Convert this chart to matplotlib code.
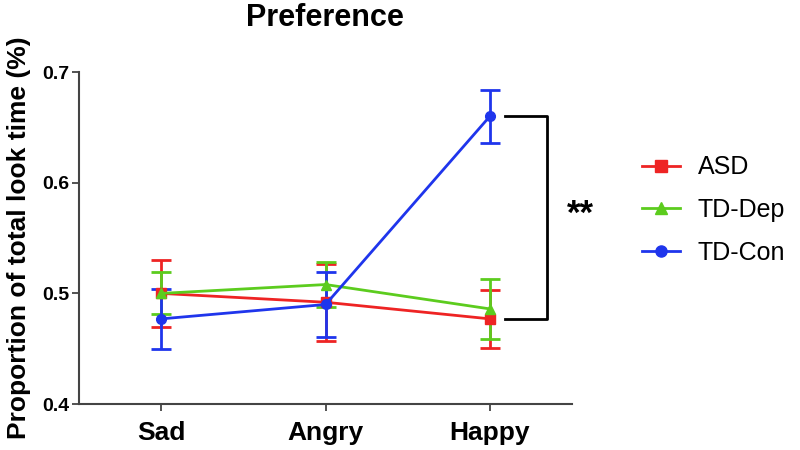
import matplotlib.pyplot as plt
from matplotlib.lines import Line2D
import numpy as np

plt.rcParams['font.family'] = ['Liberation Sans', 'DejaVu Sans']

conditions = ['Sad', 'Angry', 'Happy']
groups = ['ASD', 'TD-Dep', 'TD-Con']
asd_mean = [0.500, 0.492, 0.477]
asd_err = [0.030, 0.035, 0.026]
dep_mean = [0.500, 0.508, 0.486]
dep_err = [0.019, 0.020, 0.027]
con_mean = [0.477, 0.490, 0.660]
con_err = [0.027, 0.029, 0.024]
colors = ['#ee2424', '#5ccc1e', '#1f35ec']
markers = ['s', '^', 'o']

fig = plt.figure(figsize=(8, 4.5), dpi=100)
ax = fig.add_axes([0.099, 0.102, 0.616, 0.738])

x = np.arange(len(conditions))
series = [(asd_mean, asd_err), (dep_mean, dep_err), (con_mean, con_err)]
handles = []
for (m, e), name, c, mk in zip(series, groups, colors, markers):
    ax.errorbar(x, m, yerr=e, color=c, marker=mk, markersize=7, linewidth=2,
                elinewidth=2, capsize=7, capthick=2)
    handles.append(Line2D([], [], color=c, marker=mk, markersize=8, linewidth=2, label=name))

ax.set_xlim(-0.5, 2.5)
ax.set_ylim(0.4, 0.7)
ax.set_yticks([0.4, 0.5, 0.6, 0.7])
ax.set_yticklabels(['0.4', '0.5', '0.6', '0.7'], fontsize=14, fontweight='bold')
ax.set_xticks(x)
ax.set_xticklabels(conditions, fontsize=19, fontweight='bold')
for s in ['top', 'right']:
    ax.spines[s].set_visible(False)
for s in ['left', 'bottom']:
    ax.spines[s].set_color('#444444')
    ax.spines[s].set_linewidth(1.5)
ax.tick_params(direction='out', length=5, width=1.3, color='#444444')
ax.tick_params(axis='y', pad=2)
ax.tick_params(axis='x', pad=7)

ax.set_ylabel('Proportion of total look time (%)', fontsize=19, fontweight='bold', labelpad=8)
fig.text(0.406, 0.96, 'Preference', fontsize=22, fontweight='bold', ha='center', va='center')

# significance bracket between TD-Con and ASD at Happy
bx0, bx1 = 2.09, 2.35
ax.plot([bx0, bx1, bx1, bx0], [con_mean[2], con_mean[2], asd_mean[2], asd_mean[2]],
        color='black', linewidth=2, clip_on=False)
ax.text(2.55, 0.571, '**', fontsize=25, fontweight='bold',
        ha='center', va='center', clip_on=False)

ax.legend(handles=handles, loc='center left', bbox_to_anchor=(0.803, 0.533),
          bbox_transform=fig.transFigure, frameon=False, fontsize=18,
          labelspacing=0.75, handlelength=1.5, handletextpad=0.72,
          borderpad=0, borderaxespad=0)

fig.savefig('out.png', dpi=100)
